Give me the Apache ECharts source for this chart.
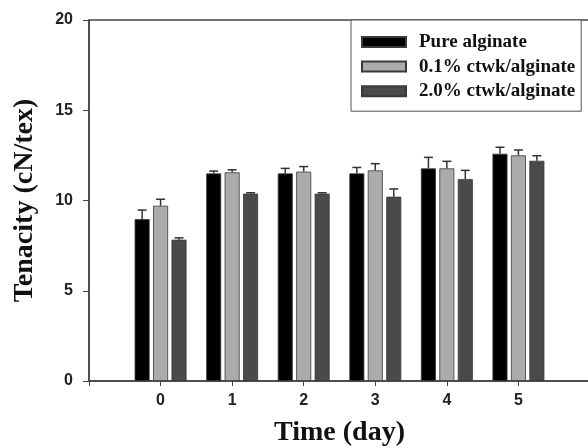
<!DOCTYPE html>
<html>
<head>
<meta charset="utf-8">
<script src="https://cdn.jsdelivr.net/npm/echarts@6/dist/echarts.min.js"></script>
<style>
  html, body { margin: 0; padding: 0; background: #fff; }
  #chart-panel { width: 588px; height: 448px; }
</style>
</head>
<body>
<div id="chart-panel"></div>
<script>
// days on the x axis (blank slots pad the axis to -1 .. 6)
const days = ['0', '1', '2', '3', '4', '5'];
const seriesNames = ['Pure alginate', '0.1% ctwk/alginate', '2.0% ctwk/alginate'];
// tenacity means (cN/tex)
const pureVals = [8.97, 11.5, 11.5, 11.5, 11.78, 12.59];
const low = [9.71, 11.56, 11.6, 11.67, 11.78, 12.5];
const high = [7.83, 10.38, 10.38, 10.21, 11.19, 12.2];
// upper error (sd)
const pureErr = [0.5, 0.13, 0.28, 0.33, 0.61, 0.36];
const lowErr = [0.36, 0.14, 0.28, 0.37, 0.39, 0.3];
const highErr = [0.1, 0.05, 0.05, 0.43, 0.48, 0.28];
const yTicks = [0, 5, 10, 15, 20];

const colors = ['#000000', '#ababab', '#4a4a4a'];
const barW = 15;
const gapRatio = 0.23;

var myChart = echarts.init(document.getElementById('chart-panel'));

const cats = [''].concat(days, ['']);
const pad = arr => ['-'].concat(arr, ['-']);
const vals = [pureVals, low, high];
const errs = [pureErr, lowErr, highErr];

const barSeries = vals.map(function (v, s) {
  return {
    name: seriesNames[s],
    type: 'bar',
    data: pad(v),
    barWidth: barW,
    barGap: (gapRatio * 100) + '%',
    itemStyle: { color: colors[s], borderColor: '#3a3a3a', borderWidth: 0.8 },
    z: 2
  };
});

const errSeries = vals.map(function (v, s) {
  const off = (s - 1) * barW * (1 + gapRatio);
  return {
    type: 'custom',
    silent: true,
    z: 3,
    data: v.map(function (y, i) { return [i + 1, y, errs[s][i]]; }),
    renderItem: function (params, api) {
      const p0 = api.coord([api.value(0), api.value(1)]);
      const p1 = api.coord([api.value(0), api.value(1) + api.value(2)]);
      const x = p0[0] + off;
      const st = { stroke: '#333', lineWidth: 1.5 };
      return {
        type: 'group',
        children: [
          { type: 'line', shape: { x1: x, y1: p0[1], x2: x, y2: p1[1] }, style: st },
          { type: 'line', shape: { x1: x - 4.5, y1: p1[1], x2: x + 4.5, y2: p1[1] }, style: st }
        ]
      };
    }
  };
});

myChart.setOption({
  animation: false,
  grid: {
    left: 89, top: 20, height: 361, width: 501,
    outerBoundsMode: 'none',
    show: true, borderColor: '#444', borderWidth: 1.5
  },
  legend: {
    orient: 'vertical',
    left: 351, top: 20,
    data: seriesNames,
    icon: 'rect',
    itemWidth: 44, itemHeight: 10,
    itemGap: 5.6,
    padding: [12.5, 6, 10.5, 10],
    borderColor: '#555', borderWidth: 1,
    backgroundColor: '#fff',
    textStyle: {
      fontFamily: 'Liberation Serif', fontWeight: 'bold', fontSize: 19,
      color: '#111', lineHeight: 19, padding: [0, 0, 0, 8]
    }
  },
  xAxis: {
    type: 'category',
    data: cats,
    boundaryGap: false,
    name: 'Time (day)',
    nameLocation: 'middle',
    nameGap: 38,
    nameTextStyle: { fontFamily: 'Liberation Serif', fontWeight: 'bold', fontSize: 28, color: '#111' },
    axisLine: { lineStyle: { color: '#444', width: 1.5 } },
    axisTick: { interval: 0, length: 5, lineStyle: { color: '#444' } },
    axisLabel: {
      interval: 0, margin: 12,
      fontFamily: 'Liberation Sans', fontWeight: 'bold', fontSize: 16, color: '#222'
    },
    splitLine: { show: false }
  },
  yAxis: {
    type: 'value',
    min: yTicks[0], max: yTicks[yTicks.length - 1], interval: 5,
    name: 'Tenacity (cN/tex)',
    nameLocation: 'middle',
    nameGap: 50,
    nameTextStyle: { fontFamily: 'Liberation Serif', fontWeight: 'bold', fontSize: 28, color: '#111' },
    axisLine: { show: true, lineStyle: { color: '#444', width: 1.5 } },
    axisTick: { show: true, length: 6, lineStyle: { color: '#444' } },
    axisLabel: { margin: 16, fontFamily: 'Liberation Sans', fontWeight: 'bold', fontSize: 16, color: '#222' },
    splitLine: { show: false }
  },
  series: barSeries.concat(errSeries)
});
</script>
</body>
</html>
